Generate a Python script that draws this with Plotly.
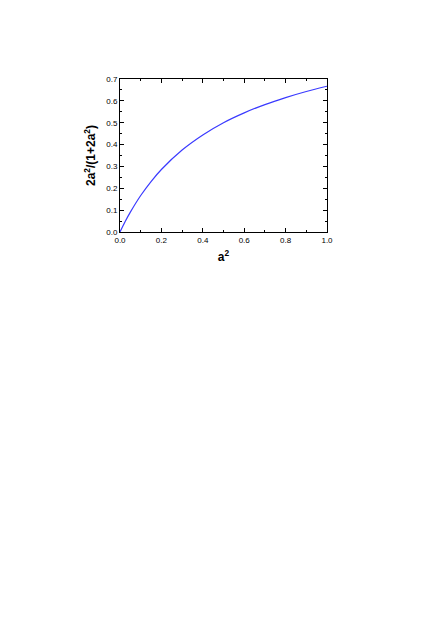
import plotly.graph_objects as go

# values
a2 = [0.0, 0.025, 0.05, 0.1, 0.15, 0.2, 0.3, 0.4, 0.5, 0.6, 0.7, 0.8, 0.9, 1.0]
ratio = [0.0, 0.048, 0.091, 0.167, 0.231, 0.286, 0.375, 0.444, 0.5, 0.545, 0.583, 0.615, 0.643, 0.667]

x_ticks = [0.0, 0.2, 0.4, 0.6, 0.8, 1.0]
y_ticks = [0.0, 0.1, 0.2, 0.3, 0.4, 0.5, 0.6, 0.7]

fig = go.Figure(go.Scatter(
    x=a2, y=ratio, mode='lines', line_shape='spline',
    line=dict(color='#3a3aff', width=1.2),
))

axis_common = dict(
    showline=True, linecolor='black', linewidth=1, mirror='ticks',
    ticks='inside', ticklen=4, tickcolor='black', tickwidth=1,
    showgrid=False, zeroline=False, tickformat='.1f',
    tickfont=dict(family='Liberation Sans, Arial', size=8, color='black'),
)

fig.update_xaxes(
    range=[0, 1], tickvals=x_ticks,
    minor=dict(ticks='inside', ticklen=2, dtick=0.1, tickcolor='black', showgrid=False),
    title=dict(text='<b>a<sup>2</sup></b>', standoff=9,
               font=dict(family='Liberation Sans, Arial', size=12, color='black')),
    **axis_common,
)
fig.update_yaxes(
    range=[0, 0.7], tickvals=y_ticks,
    minor=dict(ticks='inside', ticklen=2, dtick=0.05, tickcolor='black', showgrid=False),
    title=dict(text='<b>2a<sup>2</sup>/(1+2a<sup>2</sup>)</b>', standoff=8,
               font=dict(family='Liberation Sans, Arial', size=12, color='black')),
    **axis_common,
)

# page body adds an 8px offset, so the figure is a little smaller
fig.update_layout(
    width=428, height=609,
    margin=dict(l=112, r=109, t=71, b=385),
    paper_bgcolor='white', plot_bgcolor='white',
    showlegend=False,
)

fig.write_html("out.html")
